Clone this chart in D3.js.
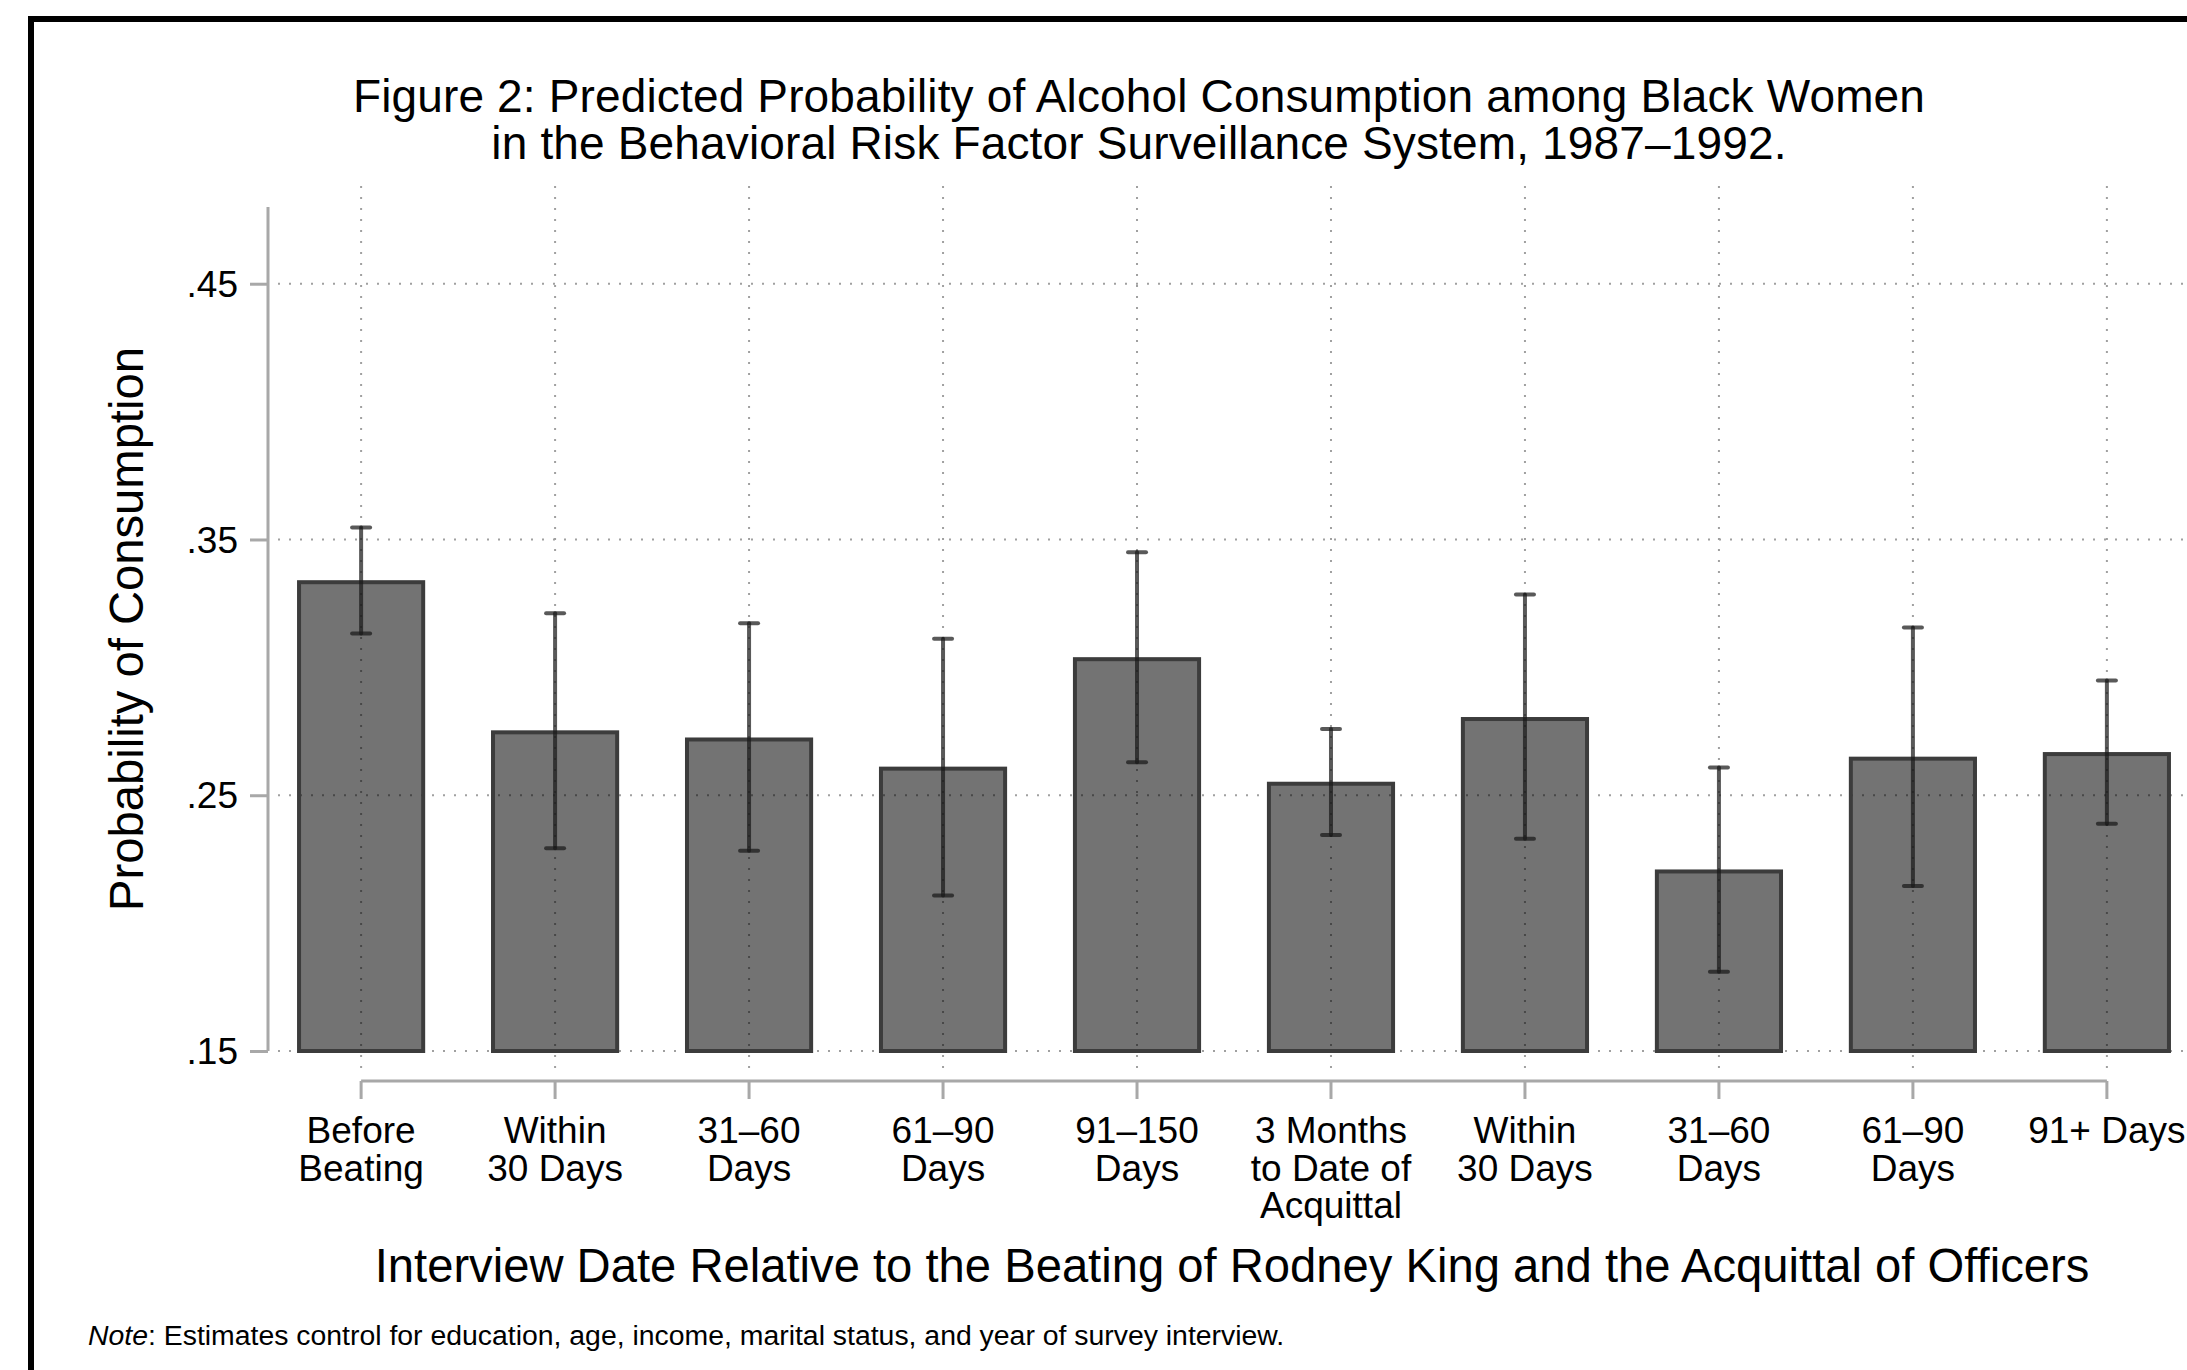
<!DOCTYPE html>
<html>
<head>
<meta charset="utf-8">
<script src="https://cdn.jsdelivr.net/npm/d3@7"></script>
<style>
  html, body { margin: 0; padding: 0; background: #fff; }
  svg { display: block; font-family: "Liberation Sans", Arial, Helvetica, sans-serif; }
</style>
</head>
<body>
<svg id="chart" width="2187" height="1370"></svg>
<script>
// Categories (multi-line tick labels)
const categories = [
  ["Before", "Beating"],
  ["Within", "30 Days"],
  ["31\u201360", "Days"],
  ["61\u201390", "Days"],
  ["91\u2013150", "Days"],
  ["3 Months", "to Date of", "Acquittal"],
  ["Within", "30 Days"],
  ["31\u201360", "Days"],
  ["61\u201390", "Days"],
  ["91+ Days"]
];
// Predicted probability and confidence interval bounds
const estimates = [0.3333, 0.2746, 0.2718, 0.2604, 0.3032, 0.2545, 0.2798, 0.2202, 0.2643, 0.2661];
const lowerCI   = [0.3132, 0.2293, 0.2283, 0.2108, 0.2629, 0.2345, 0.2330, 0.1810, 0.2145, 0.2389];
const upperCI   = [0.3547, 0.3212, 0.3172, 0.3112, 0.3450, 0.2759, 0.3285, 0.2608, 0.3156, 0.2949];
const yTicks = [0.15, 0.25, 0.35, 0.45];
const yTickLabels = [".15", ".25", ".35", ".45"];

const titleLines = [
  "Figure 2: Predicted Probability of Alcohol Consumption among Black Women",
  "in the Behavioral Risk Factor Surveillance System, 1987\u20131992."
];
const xTitle = "Interview Date Relative to the Beating of Rodney King and the Acquittal of Officers";
const yTitle = "Probability of Consumption";
const noteLabel = "Note";
const noteText = ": Estimates control for education, age, income, marital status, and year of survey interview.";

const svg = d3.select("#chart");
const ids = d3.range(categories.length);

const x = d3.scaleBand().domain(ids).range([268, 2200]).paddingInner(0.36).paddingOuter(0.16);
const y = d3.scaleLinear().domain([0.15, 0.48]).range([1051, 207]);
const cx = i => x(i) + x.bandwidth() / 2;

const axisGray = "#a8a8a8";
const gridGray = "#a0a0a0";

// Outer frame (only top and left edges fall inside the canvas)
svg.append("rect")
  .attr("x", 31).attr("y", 19).attr("width", 2600).attr("height", 1700)
  .attr("fill", "none").attr("stroke", "#000").attr("stroke-width", 6);

// Title
svg.append("g").selectAll("text").data(titleLines).join("text")
  .attr("x", 1139).attr("y", (d, i) => 112 + i * 47)
  .attr("text-anchor", "middle").attr("font-size", 46).attr("letter-spacing", 0.15).attr("fill", "#000")
  .text(d => d);

// Horizontal gridlines
svg.append("g").selectAll("line").data(yTicks).join("line")
  .attr("x1", 278).attr("x2", 2200)
  .attr("y1", d => y(d)).attr("y2", d => y(d))
  .attr("stroke", gridGray).attr("stroke-width", 2)
  .attr("stroke-dasharray", "2,9");

// Vertical gridlines at category positions
svg.append("g").selectAll("line").data(ids).join("line")
  .attr("x1", cx).attr("x2", cx)
  .attr("y1", 186).attr("y2", 1076)
  .attr("stroke", gridGray).attr("stroke-width", 2)
  .attr("stroke-dasharray", "2,9");

// Y axis
const yAxis = d3.axisLeft(y).tickValues(yTicks)
  .tickFormat((d, i) => yTickLabels[i]).tickSize(18).tickPadding(12);
const gy = svg.append("g").attr("transform", "translate(268,0)").call(yAxis);
gy.select(".domain").attr("d", `M0,${y(0.48)}V${y(0.15)}`).attr("stroke", axisGray).attr("stroke-width", 3);
gy.selectAll(".tick line").attr("stroke", axisGray).attr("stroke-width", 3);
gy.selectAll(".tick text").attr("font-size", 37).attr("fill", "#000")
  .attr("font-family", "\"Liberation Sans\", Arial, Helvetica, sans-serif")
  .attr("dy", "0.34em");

// Y axis title
svg.append("text")
  .attr("transform", "translate(143,629) rotate(-90)")
  .attr("text-anchor", "middle").attr("font-size", 47.2).attr("fill", "#000")
  .text(yTitle);

// Bars
svg.append("g").selectAll("rect").data(ids).join("rect")
  .attr("x", i => x(i)).attr("width", x.bandwidth())
  .attr("y", i => y(estimates[i])).attr("height", i => y(0.15) - y(estimates[i]))
  .attr("fill", "#000").attr("fill-opacity", 0.55)
  .attr("stroke", "#3c3c3c").attr("stroke-width", 4);

// Confidence intervals
const ci = svg.append("g").attr("stroke", "rgba(25,25,25,0.72)").attr("stroke-width", 4).attr("stroke-linecap", "round");
ci.selectAll("line.whisker").data(ids).join("line").attr("class", "whisker")
  .attr("x1", cx).attr("x2", cx)
  .attr("y1", i => y(upperCI[i])).attr("y2", i => y(lowerCI[i]));
ci.selectAll("line.capTop").data(ids).join("line").attr("class", "capTop")
  .attr("x1", i => cx(i) - 9).attr("x2", i => cx(i) + 9)
  .attr("y1", i => y(upperCI[i])).attr("y2", i => y(upperCI[i]));
ci.selectAll("line.capBot").data(ids).join("line").attr("class", "capBot")
  .attr("x1", i => cx(i) - 9).attr("x2", i => cx(i) + 9)
  .attr("y1", i => y(lowerCI[i])).attr("y2", i => y(lowerCI[i]));

// X axis (bracket style line below the plot)
const xAxis = d3.axisBottom(x).tickSize(18).tickFormat(() => "");
const gx = svg.append("g").attr("transform", "translate(0,1081)").call(xAxis);
gx.select(".domain").attr("d", `M${cx(0)},0H${cx(ids.length - 1)}`).attr("stroke", axisGray).attr("stroke-width", 3);
gx.selectAll(".tick line").attr("stroke", axisGray).attr("stroke-width", 3);

// Multi-line category labels
const labels = svg.append("g").attr("text-anchor", "middle").attr("font-size", 37).attr("fill", "#000");
ids.forEach(i => {
  labels.append("text").selectAll("tspan").data(categories[i]).join("tspan")
    .attr("x", cx(i)).attr("y", (d, k) => 1143 + k * 37.5)
    .text(d => d);
});

// X axis title
svg.append("text")
  .attr("x", 1232).attr("y", 1282)
  .attr("text-anchor", "middle").attr("font-size", 47.2).attr("fill", "#000")
  .text(xTitle);

// Note
const note = svg.append("text").attr("x", 88).attr("y", 1345).attr("font-size", 28.4).attr("fill", "#000");
note.append("tspan").attr("font-style", "italic").text(noteLabel);
note.append("tspan").text(noteText);
</script>
</body>
</html>
